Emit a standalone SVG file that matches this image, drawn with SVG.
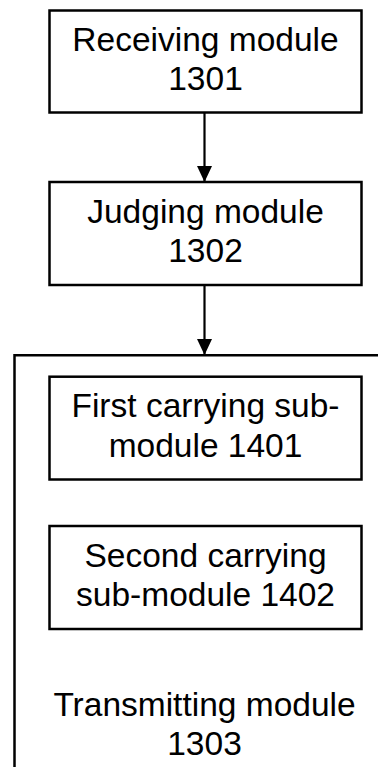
<svg xmlns="http://www.w3.org/2000/svg" width="378" height="767" viewBox="0 0 378 767">
<style>
.box{fill:#fff;stroke:#000;stroke-width:2.5}
.frame{fill:none;stroke:#000;stroke-width:2.5}
.ln{stroke:#000;stroke-width:2.2;fill:none}
text{font-family:"Liberation Sans",Arial,sans-serif;font-size:33.5px;fill:#000;text-anchor:middle}
</style>
<defs>
<marker id="ah" viewBox="0 0 16 15" refX="16" refY="7.5" markerWidth="16" markerHeight="15" markerUnits="userSpaceOnUse" orient="auto">
<path d="M0,0 L16,7.5 L0,15 Z" fill="#000"/>
</marker>
</defs>
<rect width="378" height="767" fill="#fff"/>
<g id="n1303">
<path class="frame" d="M382,355.3 H14.5 V772"/>
<text x="204.5" y="716">Transmitting module</text>
<text x="204.5" y="755">1303</text>
</g>
<g id="n1301">
<rect class="box" x="49.5" y="10.5" width="312" height="102"/>
<text x="205.5" y="51">Receiving module</text>
<text x="205.5" y="90">1301</text>
</g>
<g id="n1302">
<rect class="box" x="49.5" y="182" width="312" height="103"/>
<text x="205.5" y="223">Judging module</text>
<text x="205.5" y="262">1302</text>
</g>
<g id="n1401">
<rect class="box" x="49.5" y="376.7" width="312" height="102.8"/>
<text x="205.5" y="417">First carrying sub-</text>
<text x="205.5" y="457">module 1401</text>
</g>
<g id="n1402">
<rect class="box" x="49.5" y="526" width="312" height="103"/>
<text x="205.5" y="567">Second carrying</text>
<text x="205.5" y="606">sub-module 1402</text>
</g>
<g id="connectors">
<line class="ln" x1="204.5" y1="112.5" x2="204.5" y2="182" marker-end="url(#ah)"/>
<line class="ln" x1="204.5" y1="285" x2="204.5" y2="355" marker-end="url(#ah)"/>
</g>
</svg>
